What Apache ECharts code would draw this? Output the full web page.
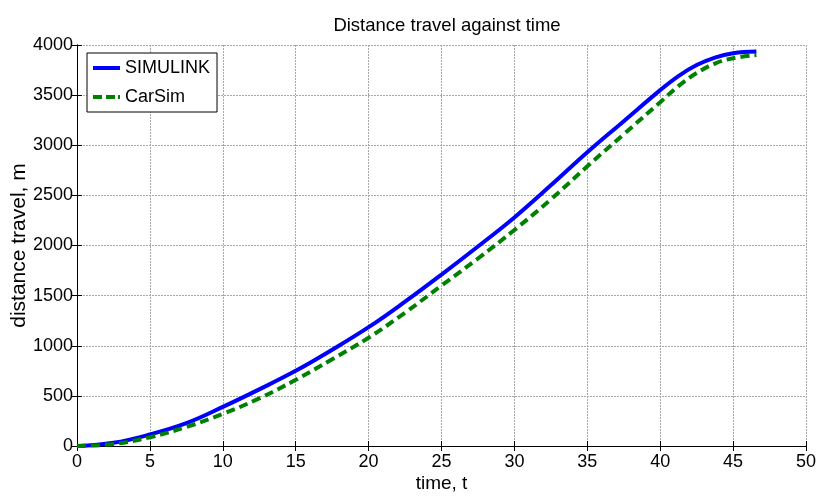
<!DOCTYPE html>
<html>
<head>
<meta charset="utf-8">
<script src="https://cdn.jsdelivr.net/npm/echarts@6/dist/echarts.min.js"></script>
<style>
  html, body { margin: 0; padding: 0; background: #fff; }
  #chart { width: 819px; height: 496px; }
</style>
</head>
<body>
<div id="chart"></div>
<script>
// Time samples (s) and distance travelled (m) for both simulations
const timeSimulink = [0, 2.5, 5, 7.5, 10, 12.5, 15, 17.5, 20, 22.5, 25, 27.5, 30, 32.5, 35, 37.5, 40, 41.25, 42.5, 43.75, 45, 46.6];
const distSimulink = [0, 32, 115, 228, 390, 565, 750, 960, 1185, 1440, 1710, 1990, 2280, 2600, 2930, 3240, 3550, 3690, 3800, 3875, 3918, 3935];

const timeCarSim = [0, 2.5, 5, 7.5, 10, 12.5, 15, 17.5, 20, 22.5, 25, 27.5, 30, 32.5, 35, 37.5, 40, 41.25, 42.5, 43.75, 45, 46.6];
const distCarSim = [0, 20, 87, 190, 320, 475, 660, 865, 1080, 1330, 1600, 1870, 2155, 2460, 2790, 3110, 3430, 3590, 3720, 3815, 3868, 3900];

const seriesNames = ['SIMULINK', 'CarSim'];

const pairs = (xs, ys) => xs.map((x, i) => [x, ys[i]]);

const FONT = 'Liberation Sans, Arial, sans-serif';
const gridLine = { show: true, lineStyle: { color: '#a8a8a8', type: [2, 1], width: 1 } };
const tickStyle = { inside: true, length: 5, lineStyle: { color: '#000' } };

const chart = echarts.init(document.getElementById('chart'), null, { renderer: 'canvas' });
chart.setOption({
  animation: false,
  backgroundColor: '#fff',
  title: {
    text: 'Distance travel against time',
    left: 442, top: 11, textAlign: 'center',
    textStyle: { fontFamily: FONT, fontSize: 18.5, fontWeight: 'normal', color: '#000' }
  },
  grid: { left: 77, right: 13, top: 45, bottom: 50, outerBoundsMode: 'none', containLabel: false },
  legend: {
    orient: 'vertical', left: 87, top: 53,
    backgroundColor: '#fff', borderColor: '#000', borderWidth: 1,
    padding: [6, 7, 6, 6], itemGap: 11, itemWidth: 27, itemHeight: 4, itemTextGap: 3,
    textStyle: { fontFamily: FONT, fontSize: 18, color: '#000', lineHeight: 18 },
    data: [
      { name: seriesNames[0], icon: 'rect' },
      { name: seriesNames[1], icon: 'path://M0,0h9v4h-9zM13,0h9v4h-9zM25,0h2v4h-2z' }
    ]
  },
  xAxis: [{
    type: 'value', min: 0, max: 50, interval: 5,
    name: 'time, t', nameLocation: 'middle', nameGap: 28, nameMoveOverlap: false,
    nameTextStyle: { fontFamily: FONT, fontSize: 19, color: '#000' },
    axisLine: { lineStyle: { color: '#000' } },
    axisTick: tickStyle,
    axisLabel: { fontFamily: FONT, fontSize: 18, color: '#000', margin: 7 },
    splitLine: gridLine
  }, {
    type: 'value', position: 'top', min: 0, max: 50, interval: 5,
    axisLine: { show: true, lineStyle: { color: '#000' } },
    axisTick: tickStyle,
    axisLabel: { show: false }, splitLine: { show: false }
  }],
  yAxis: [{
    type: 'value', min: 0, max: 4000, interval: 500,
    name: 'distance travel, m', nameLocation: 'middle', nameGap: 47, nameMoveOverlap: false,
    nameTextStyle: { fontFamily: FONT, fontSize: 21, color: '#000' },
    axisLine: { show: true, lineStyle: { color: '#000' } },
    axisTick: Object.assign({ show: true }, tickStyle),
    axisLabel: { fontFamily: FONT, fontSize: 18, color: '#000', margin: 4, formatter: v => String(v) },
    splitLine: gridLine
  }, {
    type: 'value', position: 'right', min: 0, max: 4000, interval: 500,
    axisLine: { show: true, lineStyle: { color: '#000' } },
    axisTick: Object.assign({ show: true }, tickStyle),
    axisLabel: { show: false }, splitLine: { show: false }
  }],
  series: [{
    name: seriesNames[0], type: 'line', smooth: 0.4, symbol: 'none',
    data: pairs(timeSimulink, distSimulink),
    lineStyle: { color: '#0000ff', width: 4 }, itemStyle: { color: '#0000ff' }
  }, {
    name: seriesNames[1], type: 'line', smooth: 0.4, symbol: 'none',
    data: pairs(timeCarSim, distCarSim),
    lineStyle: { color: '#008000', width: 4, type: [9, 5] }, itemStyle: { color: '#008000' }
  }]
});
</script>
</body>
</html>
